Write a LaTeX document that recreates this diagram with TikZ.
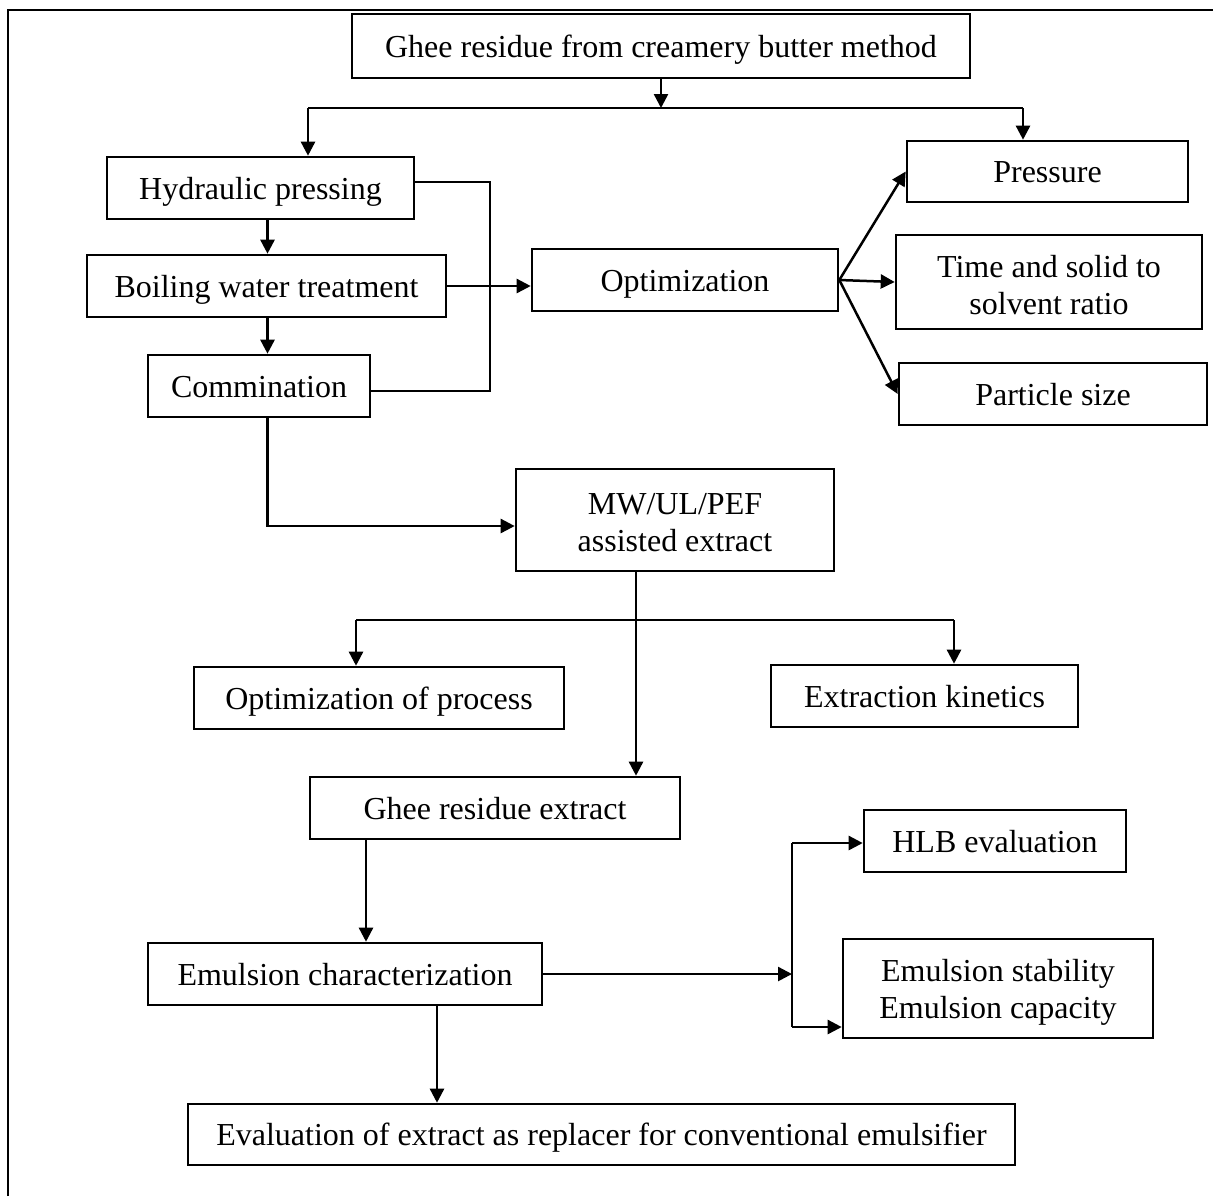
\documentclass[tikz,border=0pt]{standalone}
\usepackage{fontspec}
\setmainfont{Liberation Serif}
\usetikzlibrary{arrows.meta}
\begin{document}
\begin{tikzpicture}[x=0.5pt,y=-0.5pt,
  box/.style={draw, line width=1.3pt, inner sep=0pt, font=\fontsize{16}{18.5}\selectfont},
  one/.style={text height=12.5pt, text depth=1.5pt},
  two/.style={align=center},
  conn/.style={line width=1.25pt},
  arr/.style={conn, -{Triangle[length=7pt,width=7pt]}}]
\useasboundingbox (0,0) rectangle (1213,1196);
% frame
\draw[line width=1.1pt] (8,1196) -- (8,10) -- (1213,10);
% boxes
\node[box,one,minimum width=309pt,minimum height=32pt] (top) at (661,46) {Ghee residue from creamery butter method};
\node[box,one,minimum width=153.5pt,minimum height=31pt] (hyd) at (260.5,188) {Hydraulic pressing};
\node[box,one,minimum width=179.5pt,minimum height=31pt] (boil) at (266.5,286) {Boiling water treatment};
\node[box,one,minimum width=111pt,minimum height=31pt] (comm) at (259,386) {Commination};
\node[box,one,minimum width=153pt,minimum height=31pt] (opt) at (685,280) {Optimization};
\node[box,one,minimum width=140.5pt,minimum height=30.5pt] (press) at (1047.5,171.5) {Pressure};
\node[box,two,minimum width=153pt,minimum height=47pt] (time) at (1049,282) {\rule{0pt}{14pt}Time and solid to\\solvent ratio};
\node[box,one,minimum width=154pt,minimum height=31pt] (part) at (1053,394) {Particle size};
\node[box,two,minimum width=159pt,minimum height=51pt] (mw) at (675,520) {\rule{0pt}{13pt}MW/UL/PEF\\assisted extract};
\node[box,one,minimum width=185pt,minimum height=31pt] (optp) at (379,698) {Optimization of process};
\node[box,one,minimum width=153.5pt,minimum height=31pt] (kin) at (924.5,696) {Extraction kinetics};
\node[box,one,minimum width=185pt,minimum height=31pt] (gre) at (495,808) {Ghee residue extract};
\node[box,one,minimum width=197pt,minimum height=31pt] (emc) at (345,974) {Emulsion characterization};
\node[box,one,minimum width=131pt,minimum height=31pt] (hlb) at (995,841) {HLB evaluation};
\node[box,two,minimum width=155pt,minimum height=49.5pt] (ems) at (998,988.5) {\rule{0pt}{15pt}Emulsion stability\\Emulsion capacity};
\node[box,one,minimum width=413.5pt,minimum height=30.5pt] (eval) at (601.5,1134.5) {Evaluation of extract as replacer for conventional emulsifier};
% helper coordinates
\coordinate (bl) at (308,108);
\coordinate (br) at (1023,108);
\coordinate (xa) at (267.5,0);
\coordinate (yb1) at (0,182);
\coordinate (yb2) at (0,391);
\coordinate (bx) at (490,0);
\coordinate (ym) at (0,526);
\coordinate (xm) at (636,0);
\coordinate (cl) at (356,620);
\coordinate (cr) at (954,620);
\coordinate (xg) at (366,0);
\coordinate (xe) at (437,0);
\coordinate (vt) at (792,843);
\coordinate (vm) at (792,974);
\coordinate (vb) at (792,1027);
% connectors
\draw[arr] (top.south) -- (top.south |- bl);
\draw[conn] (bl) -- (br);
\draw[arr] (bl) -- (bl |- hyd.north);
\draw[arr] (br) -- (br |- press.north);
\draw[arr] (hyd.south -| xa) -- (boil.north -| xa);
\draw[arr] (boil.south -| xa) -- (comm.north -| xa);
\draw[conn] (hyd.east |- yb1) -| (bx |- yb2) -- (comm.east |- yb2);
\draw[arr] (boil.east) -- (boil.east -| opt.west);
\draw[arr] (opt.east) -- (press.west);
\draw[arr] (opt.east) -- (time.west);
\draw[arr] (opt.east) -- (part.west);
\draw[arr] (comm.south -| xa) |- (mw.west |- ym);
\draw[arr] (mw.south -| xm) -- (gre.north -| xm);
\draw[conn] (cl) -- (cr);
\draw[arr] (cl) -- (cl |- optp.north);
\draw[arr] (cr) -- (cr |- kin.north);
\draw[arr] (gre.south -| xg) -- (emc.north -| xg);
\draw[arr] (emc.south -| xe) -- (eval.north -| xe);
\draw[arr] (emc.east) -- (vm);
\draw[conn] (vt) -- (vb);
\draw[arr] (vt) -- (vt -| hlb.west);
\draw[arr] (vb) -- (vb -| ems.west);
\end{tikzpicture}
\end{document}
